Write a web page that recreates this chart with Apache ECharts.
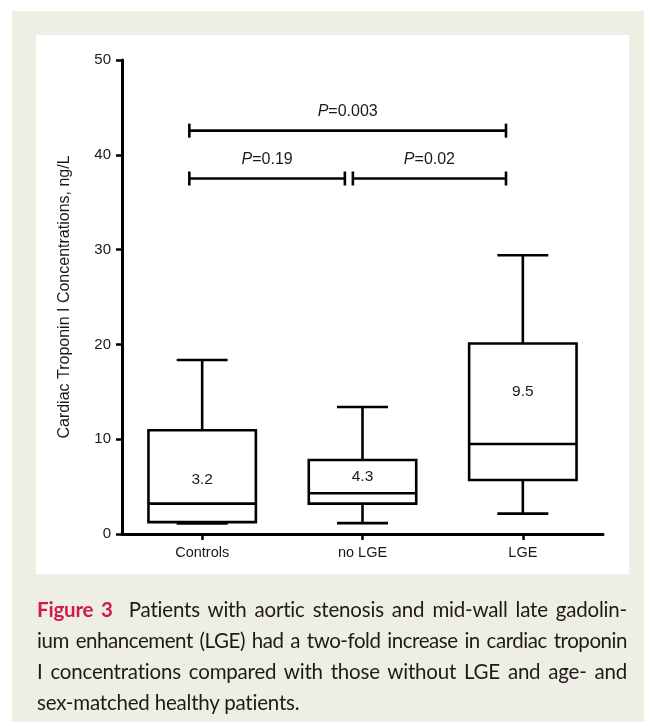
<!DOCTYPE html>
<html>
<head>
<meta charset="utf-8">
<script src="https://cdn.jsdelivr.net/npm/echarts@6/dist/echarts.min.js"></script>
<style>
  html, body { margin:0; padding:0; background:#ffffff; }
  #page { position:relative; width:655px; height:722px; overflow:hidden; background:#ffffff; }
  #beige { position:absolute; left:12px; top:11px; width:632px; height:711px; background:#efeee5; }
  #panel { position:absolute; left:36px; top:35px; width:593px; height:539px; background:#ffffff; }
  #chart { position:absolute; left:0; top:0; width:655px; height:722px; }
  #cap { position:absolute; left:37px; top:593.5px; width:590px; font-family:Lato, "Open Sans", sans-serif;
         font-size:20.5px; line-height:31.3px; color:#1e1a1b; }
  #cap .l { display:block; text-align:justify; text-align-last:justify; }
  #cap .e { display:block; text-align:left; }
  #cap b { color:#d01c4b; font-weight:700; }
</style>
</head>
<body>
<div id="page">
  <div id="beige"></div>
  <div id="panel"></div>
  <div id="chart"></div>
  <div id="cap">
    <span class="l" style="letter-spacing:-0.2px"><b>Figure 3</b>&nbsp; Patients with aortic stenosis and mid-wall late gadolin-</span>
    <span class="l" style="letter-spacing:-0.45px;word-spacing:-3.5px">ium enhancement (LGE) had a two-fold increase in cardiac troponin</span>
    <span class="l" style="letter-spacing:-0.2px">I concentrations compared with those without LGE and age- and</span>
    <span class="e" style="letter-spacing:-0.2px">sex-matched healthy patients.</span>
  </div>
</div>
<script>
// ---- data ----
const categories = ['Controls', 'no LGE', 'LGE'];
const whiskerLow  = [1.1, 1.15, 2.15];
const q1          = [1.25, 3.2, 5.7];
const medians     = [3.2, 4.3, 9.5];
const q3          = [10.95, 7.8, 20.1];
const whiskerHigh = [18.35, 13.4, 29.4];
const medianLabelY = [5.75, 6.0, 15.0];
const yTicks = [0, 10, 20, 30, 40, 50];
// significance brackets: start position, end position (in category units), height, p value
const bracketStart = [-0.08, -0.08, 0.94];
const bracketEnd   = [1.895, 0.89, 1.895];
const bracketY     = [42.55, 37.5, 37.5];
const bracketP     = ['0.003', '0.19', '0.02'];

const chart = echarts.init(document.getElementById('chart'), null, {renderer:'canvas'});

const boxData = categories.map((c, i) => [i, whiskerLow[i], q1[i], medians[i], q3[i], whiskerHigh[i]]);
const labelData = categories.map((c, i) => [i, medianLabelY[i], medians[i]]);
const bracketData = bracketStart.map((s, i) => [s, bracketEnd[i], bracketY[i], bracketP[i]]);

const LW = 2.6;
const FONT = 'Liberation Sans, Arial, sans-serif';
const option = {
  backgroundColor: 'transparent',
  animation: false,
  grid: { left:122, top:60, width:481, height:474, containLabel:false },
  xAxis: [{
    type:'category', data:categories,
    axisLine:{ show:true, onZero:false, lineStyle:{ color:'#000', width:3 } },
    axisTick:{ show:true, alignWithLabel:true, length:6, lineStyle:{ color:'#000', width:2.5 } },
    axisLabel:{ color:'#1a1a1a', fontFamily:FONT, fontSize:14.5, margin:11 },
    splitLine:{ show:false }
  }, {
    type:'value', min:-0.5, max:2.5, show:false
  }],
  yAxis: {
    type:'value', min:yTicks[0], max:yTicks[yTicks.length-1], interval:10,
    name:'Cardiac Troponin I Concentrations, ng/L', nameLocation:'middle', nameRotate:90, nameGap:49,
    nameTextStyle:{ color:'#1a1a1a', fontFamily:FONT, fontSize:16 },
    axisLine:{ show:true, onZero:false, lineStyle:{ color:'#000', width:3 } },
    axisTick:{ show:true, length:6, lineStyle:{ color:'#000', width:2.5 } },
    axisLabel:{ color:'#1a1a1a', fontFamily:FONT, fontSize:15, margin:11 },
    splitLine:{ show:false }
  },
  series: [{
    type:'custom',
    xAxisIndex:0,
    data: boxData,
    renderItem: function (params, api) {
      const i = api.value(0);
      const band = api.size([1, 0])[0];
      const hb = band * 0.335;
      const hc = band * 0.159;
      const pLow = api.coord([i, api.value(1)]);
      const pQ1 = api.coord([i, api.value(2)]);
      const pMed = api.coord([i, api.value(3)]);
      const pQ3 = api.coord([i, api.value(4)]);
      const pHigh = api.coord([i, api.value(5)]);
      const x = pMed[0];
      const st = { stroke:'#000', lineWidth:LW, fill:null };
      return { type:'group', children:[
        { type:'rect', shape:{ x:x-hb, y:pQ3[1], width:2*hb, height:pQ1[1]-pQ3[1] }, style:{ stroke:'#000', lineWidth:LW, fill:'#fff' } },
        { type:'line', shape:{ x1:x-hb, y1:pMed[1], x2:x+hb, y2:pMed[1] }, style:st },
        { type:'line', shape:{ x1:x, y1:pQ3[1], x2:x, y2:pHigh[1] }, style:st },
        { type:'line', shape:{ x1:x-hc, y1:pHigh[1], x2:x+hc, y2:pHigh[1] }, style:st },
        { type:'line', shape:{ x1:x, y1:pQ1[1], x2:x, y2:pLow[1] }, style:st },
        { type:'line', shape:{ x1:x-hc, y1:pLow[1], x2:x+hc, y2:pLow[1] }, style:st }
      ]};
    },
    z: 2
  }, {
    type:'custom',
    xAxisIndex:0,
    data: labelData,
    renderItem: function (params, api) {
      const p = api.coord([api.value(0), api.value(1)]);
      return { type:'text', x:p[0], y:p[1], style:{ text:String(labelData[params.dataIndex][2]), fill:'#1a1a1a',
        font:'15.5px "Liberation Sans", Arial, sans-serif', align:'center', verticalAlign:'middle' } };
    },
    z: 3
  }, {
    type:'custom',
    xAxisIndex:1,
    data: bracketData,
    renderItem: function (params, api) {
      const d = bracketData[params.dataIndex];
      const a = api.coord([d[0], d[2]]);
      const b = api.coord([d[1], d[2]]);
      const st = { stroke:'#000', lineWidth:LW, fill:null };
      return { type:'group', children:[
        { type:'line', shape:{ x1:a[0], y1:a[1], x2:b[0], y2:b[1] }, style:st },
        { type:'line', shape:{ x1:a[0], y1:a[1]-7, x2:a[0], y2:a[1]+7 }, style:st },
        { type:'line', shape:{ x1:b[0], y1:b[1]-7, x2:b[0], y2:b[1]+7 }, style:st },
        { type:'text', x:(a[0]+b[0])/2, y:a[1]-19, style:{
            text:'{i|P}{n|=' + d[3] + '}', align:'center', verticalAlign:'middle',
            rich:{
              i:{ fontStyle:'italic', fontSize:16, fontFamily:FONT, fill:'#1a1a1a' },
              n:{ fontSize:16, fontFamily:FONT, fill:'#1a1a1a' }
            } } }
      ]};
    },
    z: 3
  }]
};
chart.setOption(option);
</script>
</body>
</html>
